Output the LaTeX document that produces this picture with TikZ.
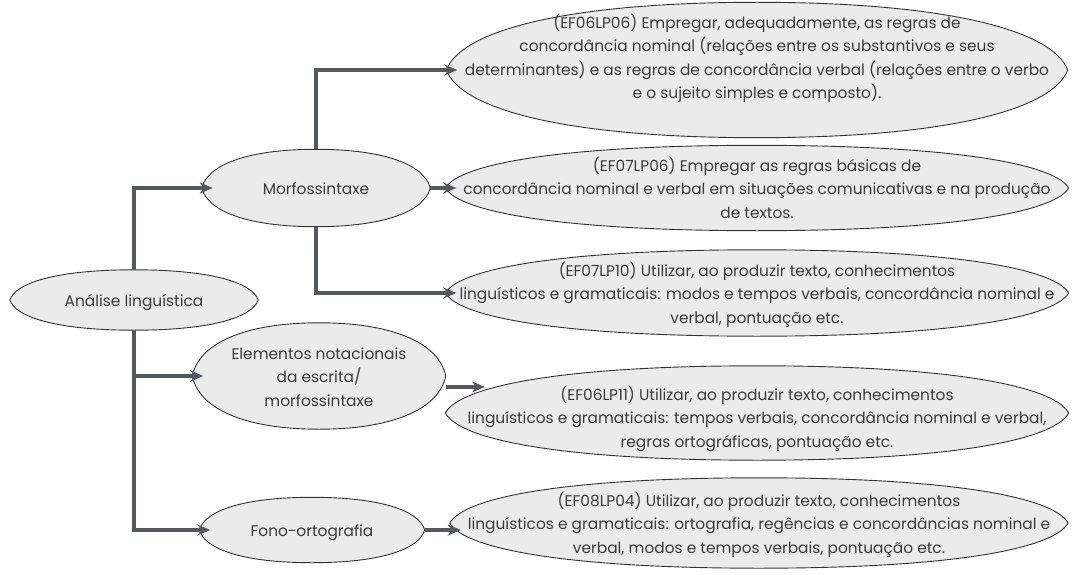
\documentclass[tikz,border=0pt]{standalone}
\usepackage{fontspec}
\setmainfont{Poppins}
\usetikzlibrary{arrows.meta,shapes.geometric,calc,backgrounds}
\definecolor{ellfill}{HTML}{EBEBEB}
\definecolor{linegray}{HTML}{55585C}
\definecolor{txtgray}{HTML}{3A3A3A}
\newcommand\elltext[2][0pt]{\makebox[0pt]{\raisebox{\dimexpr#1-0.36em\relax}[0pt][0pt]{\begin{tabular}{@{}c@{}}#2\end{tabular}}}}

\begin{document}
\begin{tikzpicture}[x=1pt,y=-1pt,>={Stealth[length=13pt,width=11pt]},
  ell/.style={ellipse,inner sep=0pt,text=txtgray,font=\fontsize{15.4}{23.5}\selectfont},
  outline/.style={draw=black!80,line width=0.9pt,fill=ellfill},
  conn/.style={->,draw=linegray,line width=3.3pt,shorten >=-11pt}]
  \useasboundingbox (0,0) rectangle (1076,575);
  \node[ell,minimum width=248pt,minimum height=60pt] (analise) at (134,300) {\elltext{Análise linguística}};
  \node[ell,minimum width=228pt,minimum height=77pt] (morfo) at (316,188) {\elltext{Morfossintaxe}};
  \node[ell,minimum width=253pt,minimum height=106pt] (elem) at (319,376) {\elltext{Elementos notacionais\\da escrita/\\morfossintaxe}};
  \node[ell,minimum width=225pt,minimum height=65pt] (fono) at (312,530) {\elltext{Fono-ortografia}};
  \node[ell,minimum width=621pt,minimum height=135pt] (ef06lp06) at (757,70) {\elltext[13pt]{(EF06LP06) Empregar, adequadamente, as regras de\\concordância nominal (relações entre os substantivos e seus\\determinantes) e as regras de concordância verbal (relações entre o verbo\\e o sujeito simples e composto).}};
  \node[ell,minimum width=623pt,minimum height=85pt] (ef07lp06) at (757,188) {\elltext{(EF07LP06) Empregar as regras básicas de\\concordância nominal e verbal em situações comunicativas e na produção\\de textos.}};
  \node[ell,minimum width=623pt,minimum height=86pt] (ef07lp10) at (757,293) {\elltext{(EF07LP10) Utilizar, ao produzir texto, conhecimentos\\linguísticos e gramaticais: modos e tempos verbais, concordância nominal e\\verbal, pontuação etc.}};
  \node[ell,minimum width=623pt,minimum height=94pt] (ef06lp11) at (757,413) {\elltext[-4pt]{(EF06LP11) Utilizar, ao produzir texto, conhecimentos\\linguísticos e gramaticais: tempos verbais, concordância nominal e verbal,\\regras ortográficas, pontuação etc.}};
  \node[ell,minimum width=618pt,minimum height=90pt] (ef08lp04) at (759,523) {\elltext{(EF08LP04) Utilizar, ao produzir texto, conhecimentos\\linguísticos e gramaticais: ortografia, regências e concordâncias nominal e\\verbal, modos e tempos verbais, pontuação etc.}};
  \begin{scope}[on background layer]
    \foreach \e in {analise,morfo,elem,fono,ef06lp06,ef07lp06,ef07lp10,ef06lp11,ef08lp04}
      \filldraw[outline] let \p1=(\e.west),\p2=(\e.north),\p3=(\e.east),\p4=(\e.south) in
        (\p1) .. controls ({\x1+0.05*(\x2-\x1)},{\y1+0.6*(\y2-\y1)}) and ({\x2-0.6*(\x2-\x1)},\y2) .. (\p2)
              .. controls ({\x2+0.6*(\x2-\x1)},\y2) and ({\x3-0.05*(\x2-\x1)},{\y3+0.6*(\y2-\y1)}) .. (\p3)
              .. controls ({\x3-0.05*(\x2-\x1)},{\y3-0.6*(\y2-\y1)}) and ({\x4+0.6*(\x2-\x1)},\y4) .. (\p4)
              .. controls ({\x4-0.6*(\x2-\x1)},\y4) and ({\x1+0.05*(\x2-\x1)},{\y1-0.6*(\y2-\y1)}) .. (\p1) -- cycle;
  \end{scope}
  \coordinate (tip) at (474,387);
  \draw[conn] (analise.north) |- (morfo.west);
  \draw[conn] (analise.south) |- (fono.west);
  \draw[conn] (analise.south |- elem.west) -- (elem.west);
  \draw[conn] (morfo.north) |- (ef06lp06.west);
  \draw[conn] (morfo.east) -- (ef07lp06.west);
  \draw[conn] (morfo.south) |- (ef07lp10.west);
  \draw[conn] (elem.east |- tip) -- (tip);
  \draw[conn] (fono.east) -- (fono.east -| ef08lp04.west);
\end{tikzpicture}
\end{document}
